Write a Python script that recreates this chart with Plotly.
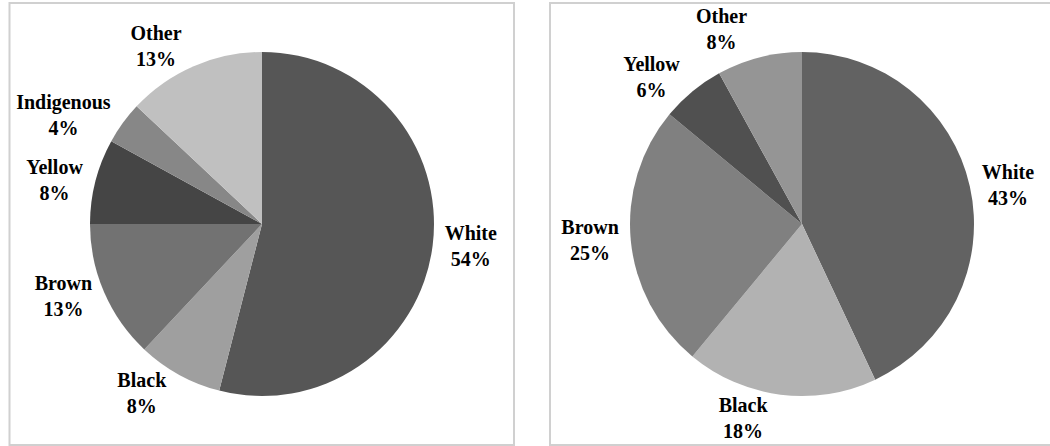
import plotly.graph_objects as go

# ---- data ----
left_labels = ["White", "Black", "Brown", "Yellow", "Indigenous", "Other"]
left_values = [54, 8, 13, 8, 4, 13]
left_colors = ["#565656", "#9f9f9f", "#727272", "#454545", "#878787", "#c0c0c0"]

right_labels = ["White", "Black", "Brown", "Yellow", "Other"]
right_values = [43, 18, 25, 6, 8]
right_colors = ["#626262", "#b2b2b2", "#808080", "#505050", "#959595"]

W, H = 1050, 446
R = 172
CY = 224


def dom(cx):
    return dict(x=[(cx - R) / W, (cx + R) / W], y=[1 - (CY + R) / H, 1 - (CY - R) / H])


font = dict(family="Times New Roman, Liberation Serif, serif", size=20, color="black")

fig = go.Figure()
for labels, values, colors, cx in [
    (left_labels, left_values, left_colors, 262),
    (right_labels, right_values, right_colors, 802),
]:
    fig.add_trace(go.Pie(
        labels=labels, values=values, sort=False, direction="clockwise", rotation=0,
        marker=dict(colors=colors, line=dict(width=0)),
        textposition="outside", texttemplate="<b>%{label}</b><br><b>%{percent:.0%}</b>",
        outsidetextfont=font, textfont=font,
        domain=dom(cx), showlegend=False, hoverinfo="skip",
    ))

box = dict(type="rect", xref="paper", yref="paper", line=dict(color="#d0d0d0", width=2), fillcolor="rgba(0,0,0,0)")
fig.update_layout(
    width=W, height=H, margin=dict(l=0, r=0, t=0, b=0),
    paper_bgcolor="white", plot_bgcolor="white",
    font=dict(family="Times New Roman, Liberation Serif, serif"),
    shapes=[
        dict(box, x0=9.5 / W, x1=514 / W, y0=1 - 445 / H, y1=1 - 3 / H),
        dict(box, x0=550 / W, x1=1.01, y0=1 - 445 / H, y1=1 - 3 / H),
    ],
)
fig.write_html(
    "out.html",
    post_script="document.querySelectorAll('path.textline').forEach(function(e){e.style.display='none';});",
)
